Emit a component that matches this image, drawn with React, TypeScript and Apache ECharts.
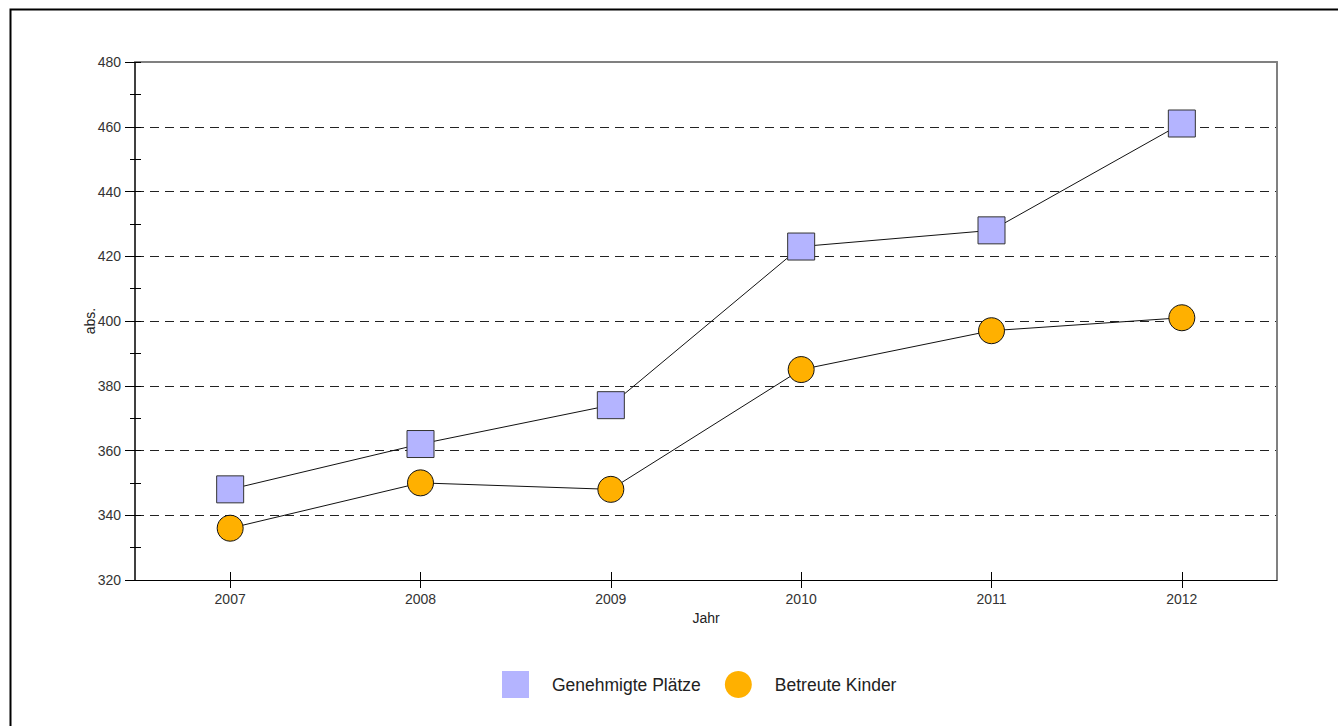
import React, { useEffect, useRef } from "react";
import * as echarts from "echarts";

const years = ["2007", "2008", "2009", "2010", "2011", "2012"];
const genehmigtePlaetze = [348, 362, 374, 423, 428, 461];
const betreuteKinder = [336, 350, 348, 385, 397, 401];
const yMin = 320;
const yMax = 480;

const FONT = "'Liberation Sans Narrow', 'Arial Narrow', 'Liberation Sans', Arial, sans-serif";

export default function App() {
  const ref = useRef<HTMLDivElement>(null);
  useEffect(() => {
    if (!ref.current) return;
    const chart = echarts.init(ref.current, null, { renderer: "svg" });
    chart.setOption({
      animation: false,
      backgroundColor: "#ffffff",
      textStyle: { fontFamily: FONT },
      graphic: [
        {
          type: "rect",
          shape: { x: 10.5, y: 9.5, width: 1400, height: 800 },
          style: { fill: "none", stroke: "#000", lineWidth: 2 },
          silent: true,
          z: 100,
        },
      ],
      grid: { left: 135, right: 61, top: 62, bottom: 146, containLabel: false },
      legend: {
        left: 502,
        top: 671,
        padding: 0,
        itemWidth: 27,
        itemHeight: 27,
        itemGap: 24,
        textStyle: { fontSize: 17.5, color: "#222", fontFamily: FONT, padding: [0, 0, 0, 18] },
        data: [
          { name: "Genehmigte Plätze", icon: "rect", itemStyle: { color: "#b4b4ff", borderWidth: 0 } },
          { name: "Betreute Kinder", icon: "circle", itemStyle: { color: "#ffb000", borderWidth: 0 } },
        ],
      },
      xAxis: [
        {
          type: "category",
          data: years,
          boundaryGap: true,
          name: "Jahr",
          nameLocation: "middle",
          nameGap: 30,
          nameTextStyle: { fontSize: 14, color: "#222", fontFamily: FONT },
          axisLine: { show: true, lineStyle: { color: "#000", width: 1 } },
          axisTick: { show: true, alignWithLabel: true, length: 8, lineStyle: { color: "#000" } },
          axisLabel: { fontSize: 14, color: "#333", margin: 12, fontFamily: FONT },
          splitLine: { show: false },
        },
        {
          type: "category",
          data: years,
          boundaryGap: true,
          position: "bottom",
          axisLine: { show: false },
          axisTick: { show: true, inside: true, alignWithLabel: true, length: 8, lineStyle: { color: "#000" } },
          axisLabel: { show: false },
          splitLine: { show: false },
        },
        {
          type: "category",
          data: years,
          position: "top",
          axisLine: { show: true, lineStyle: { color: "#808080", width: 2 } },
          axisTick: { show: false },
          axisLabel: { show: false },
          splitLine: { show: false },
        },
      ],
      yAxis: [
        {
          type: "value",
          min: yMin,
          max: yMax,
          interval: 20,
          name: "abs.",
          nameLocation: "middle",
          nameGap: 38,
          nameMoveOverlap: false,
          nameTextStyle: { fontSize: 14, color: "#222", fontFamily: FONT },
          axisLine: { show: true, lineStyle: { color: "#000", width: 1.5 } },
          axisTick: { show: true, length: 10, lineStyle: { color: "#000" } },
          minorTick: { show: true, splitNumber: 2, length: 5, lineStyle: { color: "#000" } },
          axisLabel: { fontSize: 14, color: "#333", margin: 14, fontFamily: FONT },
          splitLine: { show: true, lineStyle: { color: "#222", type: [9, 6], width: 1 } },
        },
        {
          type: "value",
          min: yMin,
          max: yMax,
          interval: 10,
          position: "left",
          axisLine: { show: false },
          axisTick: { show: true, inside: true, length: 6, lineStyle: { color: "#000" } },
          axisLabel: { show: false },
          splitLine: { show: false },
        },
        {
          type: "value",
          min: yMin,
          max: yMax,
          position: "right",
          axisLine: { show: true, lineStyle: { color: "#808080", width: 2 } },
          axisTick: { show: false },
          axisLabel: { show: false },
          splitLine: { show: false },
        },
      ],
      series: [
        {
          name: "Genehmigte Plätze",
          type: "line",
          data: genehmigtePlaetze,
          symbol: "rect",
          symbolSize: 27,
          lineStyle: { color: "#111", width: 1 },
          itemStyle: { color: "#b4b4ff", borderColor: "#333", borderWidth: 1 },
          z: 3,
        },
        {
          name: "Betreute Kinder",
          type: "line",
          data: betreuteKinder,
          symbol: "circle",
          symbolSize: 26,
          lineStyle: { color: "#111", width: 1 },
          itemStyle: { color: "#ffb000", borderColor: "#111", borderWidth: 1 },
          z: 3,
        },
      ],
    });
    return () => chart.dispose();
  }, []);
  return (
    <div
      ref={ref}
      style={{ position: "absolute", left: 0, top: 0, width: 1338, height: 726 }}
    />
  );
}
